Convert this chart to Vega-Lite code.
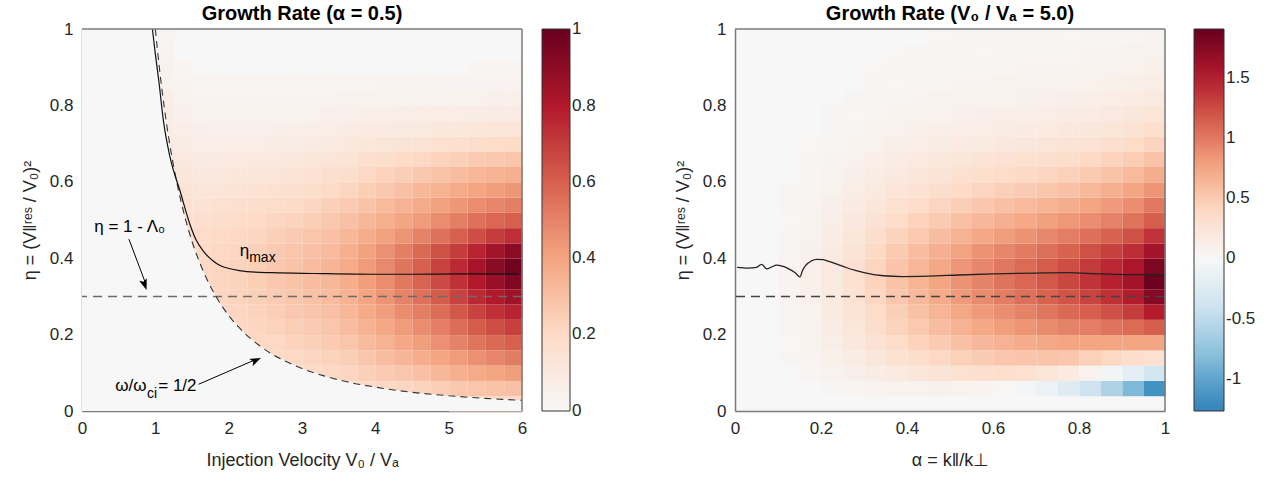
{
"$schema": "https://vega.github.io/schema/vega-lite/v6.json",
"padding": {"left": 21, "top": 4, "right": 5, "bottom": 4},
"background": "white",
"config": {
  "font": "Liberation Sans",
  "view": {"stroke": null, "fill": "#f7f7f7"},
  "axis": {"labelFont": "Liberation Sans", "labelFontSize": 17, "labelColor": "#262626", "titleFont": "Liberation Sans", "titleFontSize": 18, "titleFontWeight": "normal", "titleColor": "#262626", "domainColor": "#7a7a7a", "domainWidth": 1.5, "ticks": false, "grid": false, "labelPadding": 9, "zindex": 1, "labelFlush": false, "labelExpr": "'' + datum.value"},
  "legend": {"labelFont": "Liberation Sans", "labelFontSize": 17, "labelColor": "#262626", "labelOffset": 6, "gradientStrokeColor": "#333333", "gradientStrokeWidth": 1, "direction": "vertical", "orient": "right", "labelOverlap": false},
  "title": {"font": "Liberation Sans", "fontSize": 20, "fontWeight": "bold", "color": "#000000"},
  "concat": {"spacing": 78}
},
"datasets": {
"L": [
{"x":1,"y":0.64,"g":0.1},{"x":1,"y":0.68,"g":0.09},{"x":1,"y":0.72,"g":0.08},{"x":1,"y":0.76,"g":0.07},{"x":1,"y":0.8,"g":0.06},{"x":1,"y":0.84,"g":0.045},{"x":1,"y":0.88,"g":0.035},{"x":1,"y":0.92,"g":0.025},{"x":1,"y":0.96,"g":0.02},
{"x":1.25,"y":0.44,"g":0.18},{"x":1.25,"y":0.48,"g":0.17},{"x":1.25,"y":0.52,"g":0.16},{"x":1.25,"y":0.56,"g":0.14},{"x":1.25,"y":0.6,"g":0.12},{"x":1.25,"y":0.64,"g":0.1},{"x":1.25,"y":0.68,"g":0.08},{"x":1.25,"y":0.72,"g":0.065},{"x":1.25,"y":0.76,"g":0.05},{"x":1.25,"y":0.8,"g":0.035},{"x":1.25,"y":0.84,"g":0.025},{"x":1.25,"y":0.88,"g":0.02},
{"x":1.5,"y":0.32,"g":0.21},{"x":1.5,"y":0.36,"g":0.21},{"x":1.5,"y":0.4,"g":0.2},{"x":1.5,"y":0.44,"g":0.19},{"x":1.5,"y":0.48,"g":0.17},{"x":1.5,"y":0.52,"g":0.15},{"x":1.5,"y":0.56,"g":0.13},{"x":1.5,"y":0.6,"g":0.11},{"x":1.5,"y":0.64,"g":0.09},{"x":1.5,"y":0.68,"g":0.07},{"x":1.5,"y":0.72,"g":0.055},{"x":1.5,"y":0.76,"g":0.04},{"x":1.5,"y":0.8,"g":0.03},{"x":1.5,"y":0.84,"g":0.02},
{"x":1.75,"y":0.24,"g":0.21},{"x":1.75,"y":0.28,"g":0.22},{"x":1.75,"y":0.32,"g":0.22},{"x":1.75,"y":0.36,"g":0.22},{"x":1.75,"y":0.4,"g":0.21},{"x":1.75,"y":0.44,"g":0.2},{"x":1.75,"y":0.48,"g":0.18},{"x":1.75,"y":0.52,"g":0.16},{"x":1.75,"y":0.56,"g":0.13},{"x":1.75,"y":0.6,"g":0.11},{"x":1.75,"y":0.64,"g":0.09},{"x":1.75,"y":0.68,"g":0.07},{"x":1.75,"y":0.72,"g":0.05},{"x":1.75,"y":0.76,"g":0.035},{"x":1.75,"y":0.8,"g":0.025},{"x":1.75,"y":0.84,"g":0.02},
{"x":2,"y":0.16,"g":0.2},{"x":2,"y":0.2,"g":0.21},{"x":2,"y":0.24,"g":0.22},{"x":2,"y":0.28,"g":0.23},{"x":2,"y":0.32,"g":0.23},{"x":2,"y":0.36,"g":0.23},{"x":2,"y":0.4,"g":0.22},{"x":2,"y":0.44,"g":0.21},{"x":2,"y":0.48,"g":0.19},{"x":2,"y":0.52,"g":0.17},{"x":2,"y":0.56,"g":0.14},{"x":2,"y":0.6,"g":0.12},{"x":2,"y":0.64,"g":0.09},{"x":2,"y":0.68,"g":0.07},{"x":2,"y":0.72,"g":0.05},{"x":2,"y":0.76,"g":0.035},{"x":2,"y":0.8,"g":0.025},{"x":2,"y":0.84,"g":0.02},
{"x":2.25,"y":0.16,"g":0.21},{"x":2.25,"y":0.2,"g":0.22},{"x":2.25,"y":0.24,"g":0.23},{"x":2.25,"y":0.28,"g":0.24},{"x":2.25,"y":0.32,"g":0.25},{"x":2.25,"y":0.36,"g":0.25},{"x":2.25,"y":0.4,"g":0.24},{"x":2.25,"y":0.44,"g":0.22},{"x":2.25,"y":0.48,"g":0.2},{"x":2.25,"y":0.52,"g":0.18},{"x":2.25,"y":0.56,"g":0.15},{"x":2.25,"y":0.6,"g":0.12},{"x":2.25,"y":0.64,"g":0.1},{"x":2.25,"y":0.68,"g":0.07},{"x":2.25,"y":0.72,"g":0.05},{"x":2.25,"y":0.76,"g":0.035},{"x":2.25,"y":0.8,"g":0.025},{"x":2.25,"y":0.84,"g":0.02},
{"x":2.5,"y":0.12,"g":0.2},{"x":2.5,"y":0.16,"g":0.21},{"x":2.5,"y":0.2,"g":0.23},{"x":2.5,"y":0.24,"g":0.25},{"x":2.5,"y":0.28,"g":0.26},{"x":2.5,"y":0.32,"g":0.27},{"x":2.5,"y":0.36,"g":0.27},{"x":2.5,"y":0.4,"g":0.26},{"x":2.5,"y":0.44,"g":0.24},{"x":2.5,"y":0.48,"g":0.22},{"x":2.5,"y":0.52,"g":0.19},{"x":2.5,"y":0.56,"g":0.16},{"x":2.5,"y":0.6,"g":0.13},{"x":2.5,"y":0.64,"g":0.1},{"x":2.5,"y":0.68,"g":0.075},{"x":2.5,"y":0.72,"g":0.055},{"x":2.5,"y":0.76,"g":0.04},{"x":2.5,"y":0.8,"g":0.025},{"x":2.5,"y":0.84,"g":0.02},
{"x":2.75,"y":0.08,"g":0.19},{"x":2.75,"y":0.12,"g":0.21},{"x":2.75,"y":0.16,"g":0.23},{"x":2.75,"y":0.2,"g":0.25},{"x":2.75,"y":0.24,"g":0.27},{"x":2.75,"y":0.28,"g":0.28},{"x":2.75,"y":0.32,"g":0.29},{"x":2.75,"y":0.36,"g":0.29},{"x":2.75,"y":0.4,"g":0.28},{"x":2.75,"y":0.44,"g":0.26},{"x":2.75,"y":0.48,"g":0.23},{"x":2.75,"y":0.52,"g":0.2},{"x":2.75,"y":0.56,"g":0.17},{"x":2.75,"y":0.6,"g":0.14},{"x":2.75,"y":0.64,"g":0.11},{"x":2.75,"y":0.68,"g":0.08},{"x":2.75,"y":0.72,"g":0.06},{"x":2.75,"y":0.76,"g":0.04},{"x":2.75,"y":0.8,"g":0.025},{"x":2.75,"y":0.84,"g":0.02},
{"x":3,"y":0.08,"g":0.2},{"x":3,"y":0.12,"g":0.22},{"x":3,"y":0.16,"g":0.24},{"x":3,"y":0.2,"g":0.26},{"x":3,"y":0.24,"g":0.28},{"x":3,"y":0.28,"g":0.3},{"x":3,"y":0.32,"g":0.31},{"x":3,"y":0.36,"g":0.31},{"x":3,"y":0.4,"g":0.3},{"x":3,"y":0.44,"g":0.28},{"x":3,"y":0.48,"g":0.25},{"x":3,"y":0.52,"g":0.22},{"x":3,"y":0.56,"g":0.18},{"x":3,"y":0.6,"g":0.15},{"x":3,"y":0.64,"g":0.12},{"x":3,"y":0.68,"g":0.09},{"x":3,"y":0.72,"g":0.065},{"x":3,"y":0.76,"g":0.045},{"x":3,"y":0.8,"g":0.03},{"x":3,"y":0.84,"g":0.02},
{"x":3.25,"y":0.08,"g":0.21},{"x":3.25,"y":0.12,"g":0.23},{"x":3.25,"y":0.16,"g":0.26},{"x":3.25,"y":0.2,"g":0.28},{"x":3.25,"y":0.24,"g":0.3},{"x":3.25,"y":0.28,"g":0.32},{"x":3.25,"y":0.32,"g":0.33},{"x":3.25,"y":0.36,"g":0.34},{"x":3.25,"y":0.4,"g":0.32},{"x":3.25,"y":0.44,"g":0.3},{"x":3.25,"y":0.48,"g":0.27},{"x":3.25,"y":0.52,"g":0.24},{"x":3.25,"y":0.56,"g":0.2},{"x":3.25,"y":0.6,"g":0.17},{"x":3.25,"y":0.64,"g":0.13},{"x":3.25,"y":0.68,"g":0.1},{"x":3.25,"y":0.72,"g":0.07},{"x":3.25,"y":0.76,"g":0.05},{"x":3.25,"y":0.8,"g":0.03},{"x":3.25,"y":0.84,"g":0.02},
{"x":3.5,"y":0.04,"g":0.2},{"x":3.5,"y":0.08,"g":0.22},{"x":3.5,"y":0.12,"g":0.25},{"x":3.5,"y":0.16,"g":0.28},{"x":3.5,"y":0.2,"g":0.31},{"x":3.5,"y":0.24,"g":0.33},{"x":3.5,"y":0.28,"g":0.35},{"x":3.5,"y":0.32,"g":0.37},{"x":3.5,"y":0.36,"g":0.38},{"x":3.5,"y":0.4,"g":0.36},{"x":3.5,"y":0.44,"g":0.33},{"x":3.5,"y":0.48,"g":0.3},{"x":3.5,"y":0.52,"g":0.26},{"x":3.5,"y":0.56,"g":0.22},{"x":3.5,"y":0.6,"g":0.18},{"x":3.5,"y":0.64,"g":0.14},{"x":3.5,"y":0.68,"g":0.11},{"x":3.5,"y":0.72,"g":0.08},{"x":3.5,"y":0.76,"g":0.05},{"x":3.5,"y":0.8,"g":0.035},{"x":3.5,"y":0.84,"g":0.02},
{"x":3.75,"y":0.04,"g":0.2},{"x":3.75,"y":0.08,"g":0.24},{"x":3.75,"y":0.12,"g":0.28},{"x":3.75,"y":0.16,"g":0.32},{"x":3.75,"y":0.2,"g":0.35},{"x":3.75,"y":0.24,"g":0.38},{"x":3.75,"y":0.28,"g":0.4},{"x":3.75,"y":0.32,"g":0.42},{"x":3.75,"y":0.36,"g":0.43},{"x":3.75,"y":0.4,"g":0.41},{"x":3.75,"y":0.44,"g":0.37},{"x":3.75,"y":0.48,"g":0.33},{"x":3.75,"y":0.52,"g":0.29},{"x":3.75,"y":0.56,"g":0.25},{"x":3.75,"y":0.6,"g":0.21},{"x":3.75,"y":0.64,"g":0.17},{"x":3.75,"y":0.68,"g":0.12},{"x":3.75,"y":0.72,"g":0.09},{"x":3.75,"y":0.76,"g":0.06},{"x":3.75,"y":0.8,"g":0.04},{"x":3.75,"y":0.84,"g":0.02},
{"x":4,"y":0.04,"g":0.21},{"x":4,"y":0.08,"g":0.26},{"x":4,"y":0.12,"g":0.31},{"x":4,"y":0.16,"g":0.35},{"x":4,"y":0.2,"g":0.39},{"x":4,"y":0.24,"g":0.42},{"x":4,"y":0.28,"g":0.45},{"x":4,"y":0.32,"g":0.47},{"x":4,"y":0.36,"g":0.48},{"x":4,"y":0.4,"g":0.46},{"x":4,"y":0.44,"g":0.41},{"x":4,"y":0.48,"g":0.36},{"x":4,"y":0.52,"g":0.32},{"x":4,"y":0.56,"g":0.27},{"x":4,"y":0.6,"g":0.23},{"x":4,"y":0.64,"g":0.18},{"x":4,"y":0.68,"g":0.13},{"x":4,"y":0.72,"g":0.09},{"x":4,"y":0.76,"g":0.06},{"x":4,"y":0.8,"g":0.04},{"x":4,"y":0.84,"g":0.025},
{"x":4.25,"y":0.04,"g":0.22},{"x":4.25,"y":0.08,"g":0.28},{"x":4.25,"y":0.12,"g":0.34},{"x":4.25,"y":0.16,"g":0.39},{"x":4.25,"y":0.2,"g":0.43},{"x":4.25,"y":0.24,"g":0.47},{"x":4.25,"y":0.28,"g":0.5},{"x":4.25,"y":0.32,"g":0.53},{"x":4.25,"y":0.36,"g":0.54},{"x":4.25,"y":0.4,"g":0.51},{"x":4.25,"y":0.44,"g":0.45},{"x":4.25,"y":0.48,"g":0.4},{"x":4.25,"y":0.52,"g":0.35},{"x":4.25,"y":0.56,"g":0.3},{"x":4.25,"y":0.6,"g":0.25},{"x":4.25,"y":0.64,"g":0.2},{"x":4.25,"y":0.68,"g":0.14},{"x":4.25,"y":0.72,"g":0.1},{"x":4.25,"y":0.76,"g":0.065},{"x":4.25,"y":0.8,"g":0.04},{"x":4.25,"y":0.84,"g":0.025},
{"x":4.5,"y":0.04,"g":0.23},{"x":4.5,"y":0.08,"g":0.3},{"x":4.5,"y":0.12,"g":0.37},{"x":4.5,"y":0.16,"g":0.42},{"x":4.5,"y":0.2,"g":0.47},{"x":4.5,"y":0.24,"g":0.51},{"x":4.5,"y":0.28,"g":0.55},{"x":4.5,"y":0.32,"g":0.59},{"x":4.5,"y":0.36,"g":0.6},{"x":4.5,"y":0.4,"g":0.57},{"x":4.5,"y":0.44,"g":0.5},{"x":4.5,"y":0.48,"g":0.43},{"x":4.5,"y":0.52,"g":0.38},{"x":4.5,"y":0.56,"g":0.33},{"x":4.5,"y":0.6,"g":0.27},{"x":4.5,"y":0.64,"g":0.21},{"x":4.5,"y":0.68,"g":0.15},{"x":4.5,"y":0.72,"g":0.1},{"x":4.5,"y":0.76,"g":0.07},{"x":4.5,"y":0.8,"g":0.04},{"x":4.5,"y":0.84,"g":0.025},
{"x":4.75,"y":0.04,"g":0.25},{"x":4.75,"y":0.08,"g":0.33},{"x":4.75,"y":0.12,"g":0.4},{"x":4.75,"y":0.16,"g":0.46},{"x":4.75,"y":0.2,"g":0.51},{"x":4.75,"y":0.24,"g":0.56},{"x":4.75,"y":0.28,"g":0.61},{"x":4.75,"y":0.32,"g":0.66},{"x":4.75,"y":0.36,"g":0.68},{"x":4.75,"y":0.4,"g":0.64},{"x":4.75,"y":0.44,"g":0.55},{"x":4.75,"y":0.48,"g":0.47},{"x":4.75,"y":0.52,"g":0.41},{"x":4.75,"y":0.56,"g":0.35},{"x":4.75,"y":0.6,"g":0.29},{"x":4.75,"y":0.64,"g":0.23},{"x":4.75,"y":0.68,"g":0.16},{"x":4.75,"y":0.72,"g":0.11},{"x":4.75,"y":0.76,"g":0.07},{"x":4.75,"y":0.8,"g":0.04},{"x":4.75,"y":0.84,"g":0.025},
{"x":5,"y":0,"g":0.18},{"x":5,"y":0.04,"g":0.27},{"x":5,"y":0.08,"g":0.36},{"x":5,"y":0.12,"g":0.43},{"x":5,"y":0.16,"g":0.5},{"x":5,"y":0.2,"g":0.56},{"x":5,"y":0.24,"g":0.62},{"x":5,"y":0.28,"g":0.68},{"x":5,"y":0.32,"g":0.73},{"x":5,"y":0.36,"g":0.75},{"x":5,"y":0.4,"g":0.7},{"x":5,"y":0.44,"g":0.6},{"x":5,"y":0.48,"g":0.51},{"x":5,"y":0.52,"g":0.44},{"x":5,"y":0.56,"g":0.38},{"x":5,"y":0.6,"g":0.31},{"x":5,"y":0.64,"g":0.24},{"x":5,"y":0.68,"g":0.17},{"x":5,"y":0.72,"g":0.11},{"x":5,"y":0.76,"g":0.07},{"x":5,"y":0.8,"g":0.045},{"x":5,"y":0.84,"g":0.025},
{"x":5.25,"y":0,"g":0.19},{"x":5.25,"y":0.04,"g":0.28},{"x":5.25,"y":0.08,"g":0.38},{"x":5.25,"y":0.12,"g":0.46},{"x":5.25,"y":0.16,"g":0.54},{"x":5.25,"y":0.2,"g":0.61},{"x":5.25,"y":0.24,"g":0.68},{"x":5.25,"y":0.28,"g":0.75},{"x":5.25,"y":0.32,"g":0.8},{"x":5.25,"y":0.36,"g":0.83},{"x":5.25,"y":0.4,"g":0.77},{"x":5.25,"y":0.44,"g":0.65},{"x":5.25,"y":0.48,"g":0.55},{"x":5.25,"y":0.52,"g":0.47},{"x":5.25,"y":0.56,"g":0.4},{"x":5.25,"y":0.6,"g":0.33},{"x":5.25,"y":0.64,"g":0.26},{"x":5.25,"y":0.68,"g":0.18},{"x":5.25,"y":0.72,"g":0.12},{"x":5.25,"y":0.76,"g":0.075},{"x":5.25,"y":0.8,"g":0.045},{"x":5.25,"y":0.84,"g":0.03},{"x":5.25,"y":0.88,"g":0.02},
{"x":5.5,"y":0,"g":0.2},{"x":5.5,"y":0.04,"g":0.29},{"x":5.5,"y":0.08,"g":0.4},{"x":5.5,"y":0.12,"g":0.49},{"x":5.5,"y":0.16,"g":0.57},{"x":5.5,"y":0.2,"g":0.65},{"x":5.5,"y":0.24,"g":0.73},{"x":5.5,"y":0.28,"g":0.8},{"x":5.5,"y":0.32,"g":0.87},{"x":5.5,"y":0.36,"g":0.91},{"x":5.5,"y":0.4,"g":0.84},{"x":5.5,"y":0.44,"g":0.7},{"x":5.5,"y":0.48,"g":0.58},{"x":5.5,"y":0.52,"g":0.49},{"x":5.5,"y":0.56,"g":0.42},{"x":5.5,"y":0.6,"g":0.35},{"x":5.5,"y":0.64,"g":0.27},{"x":5.5,"y":0.68,"g":0.19},{"x":5.5,"y":0.72,"g":0.125},{"x":5.5,"y":0.76,"g":0.08},{"x":5.5,"y":0.8,"g":0.05},{"x":5.5,"y":0.84,"g":0.03},{"x":5.5,"y":0.88,"g":0.02},
{"x":5.75,"y":0,"g":0.2},{"x":5.75,"y":0.04,"g":0.3},{"x":5.75,"y":0.08,"g":0.42},{"x":5.75,"y":0.12,"g":0.52},{"x":5.75,"y":0.16,"g":0.6},{"x":5.75,"y":0.2,"g":0.69},{"x":5.75,"y":0.24,"g":0.77},{"x":5.75,"y":0.28,"g":0.85},{"x":5.75,"y":0.32,"g":0.93},{"x":5.75,"y":0.36,"g":0.98},{"x":5.75,"y":0.4,"g":0.9},{"x":5.75,"y":0.44,"g":0.74},{"x":5.75,"y":0.48,"g":0.6},{"x":5.75,"y":0.52,"g":0.51},{"x":5.75,"y":0.56,"g":0.44},{"x":5.75,"y":0.6,"g":0.36},{"x":5.75,"y":0.64,"g":0.28},{"x":5.75,"y":0.68,"g":0.2},{"x":5.75,"y":0.72,"g":0.13},{"x":5.75,"y":0.76,"g":0.08},{"x":5.75,"y":0.8,"g":0.05},{"x":5.75,"y":0.84,"g":0.03},{"x":5.75,"y":0.88,"g":0.02}
],
"R": [
{"x":0.1,"y":0.12,"h":0.026},{"x":0.1,"y":0.16,"h":0.033},{"x":0.1,"y":0.2,"h":0.039},{"x":0.1,"y":0.24,"h":0.043},{"x":0.1,"y":0.28,"h":0.048},{"x":0.1,"y":0.32,"h":0.05},{"x":0.1,"y":0.36,"h":0.049},{"x":0.1,"y":0.4,"h":0.045},{"x":0.1,"y":0.44,"h":0.039},{"x":0.1,"y":0.48,"h":0.033},{"x":0.1,"y":0.52,"h":0.028},{"x":0.1,"y":0.56,"h":0.022},
{"x":0.15,"y":0.08,"h":0.035},{"x":0.15,"y":0.12,"h":0.052},{"x":0.15,"y":0.16,"h":0.066},{"x":0.15,"y":0.2,"h":0.078},{"x":0.15,"y":0.24,"h":0.086},{"x":0.15,"y":0.28,"h":0.095},{"x":0.15,"y":0.32,"h":0.1},{"x":0.15,"y":0.36,"h":0.098},{"x":0.15,"y":0.4,"h":0.09},{"x":0.15,"y":0.44,"h":0.078},{"x":0.15,"y":0.48,"h":0.066},{"x":0.15,"y":0.52,"h":0.055},{"x":0.15,"y":0.56,"h":0.044},{"x":0.15,"y":0.6,"h":0.035},{"x":0.15,"y":0.64,"h":0.027},{"x":0.15,"y":0.68,"h":0.02},
{"x":0.2,"y":0.04,"h":0.023},{"x":0.2,"y":0.08,"h":0.067},{"x":0.2,"y":0.12,"h":0.1},{"x":0.2,"y":0.16,"h":0.125},{"x":0.2,"y":0.2,"h":0.148},{"x":0.2,"y":0.24,"h":0.163},{"x":0.2,"y":0.28,"h":0.18},{"x":0.2,"y":0.32,"h":0.19},{"x":0.2,"y":0.36,"h":0.186},{"x":0.2,"y":0.4,"h":0.171},{"x":0.2,"y":0.44,"h":0.148},{"x":0.2,"y":0.48,"h":0.125},{"x":0.2,"y":0.52,"h":0.105},{"x":0.2,"y":0.56,"h":0.084},{"x":0.2,"y":0.6,"h":0.067},{"x":0.2,"y":0.64,"h":0.051},{"x":0.2,"y":0.68,"h":0.038},{"x":0.2,"y":0.72,"h":0.029},{"x":0.2,"y":0.76,"h":0.021},
{"x":0.25,"y":0.04,"h":0.036},{"x":0.25,"y":0.08,"h":0.105},{"x":0.25,"y":0.12,"h":0.156},{"x":0.25,"y":0.16,"h":0.198},{"x":0.25,"y":0.2,"h":0.234},{"x":0.25,"y":0.24,"h":0.258},{"x":0.25,"y":0.28,"h":0.285},{"x":0.25,"y":0.32,"h":0.3},{"x":0.25,"y":0.36,"h":0.294},{"x":0.25,"y":0.4,"h":0.27},{"x":0.25,"y":0.44,"h":0.234},{"x":0.25,"y":0.48,"h":0.198},{"x":0.25,"y":0.52,"h":0.165},{"x":0.25,"y":0.56,"h":0.132},{"x":0.25,"y":0.6,"h":0.105},{"x":0.25,"y":0.64,"h":0.081},{"x":0.25,"y":0.68,"h":0.06},{"x":0.25,"y":0.72,"h":0.045},{"x":0.25,"y":0.76,"h":0.033},{"x":0.25,"y":0.8,"h":0.024},
{"x":0.3,"y":0.04,"h":0.052},{"x":0.3,"y":0.08,"h":0.15},{"x":0.3,"y":0.12,"h":0.22},{"x":0.3,"y":0.16,"h":0.28},{"x":0.3,"y":0.2,"h":0.335},{"x":0.3,"y":0.24,"h":0.37},{"x":0.3,"y":0.28,"h":0.41},{"x":0.3,"y":0.32,"h":0.43},{"x":0.3,"y":0.36,"h":0.42},{"x":0.3,"y":0.4,"h":0.39},{"x":0.3,"y":0.44,"h":0.335},{"x":0.3,"y":0.48,"h":0.28},{"x":0.3,"y":0.52,"h":0.235},{"x":0.3,"y":0.56,"h":0.19},{"x":0.3,"y":0.6,"h":0.15},{"x":0.3,"y":0.64,"h":0.116},{"x":0.3,"y":0.68,"h":0.086},{"x":0.3,"y":0.72,"h":0.065},{"x":0.3,"y":0.76,"h":0.047},{"x":0.3,"y":0.8,"h":0.034},{"x":0.3,"y":0.84,"h":0.026},{"x":0.3,"y":0.88,"h":0.02},
{"x":0.35,"y":0.04,"h":0.066},{"x":0.35,"y":0.08,"h":0.19},{"x":0.35,"y":0.12,"h":0.29},{"x":0.35,"y":0.16,"h":0.36},{"x":0.35,"y":0.2,"h":0.43},{"x":0.35,"y":0.24,"h":0.47},{"x":0.35,"y":0.28,"h":0.52},{"x":0.35,"y":0.32,"h":0.55},{"x":0.35,"y":0.36,"h":0.54},{"x":0.35,"y":0.4,"h":0.5},{"x":0.35,"y":0.44,"h":0.43},{"x":0.35,"y":0.48,"h":0.36},{"x":0.35,"y":0.52,"h":0.3},{"x":0.35,"y":0.56,"h":0.24},{"x":0.35,"y":0.6,"h":0.19},{"x":0.35,"y":0.64,"h":0.15},{"x":0.35,"y":0.68,"h":0.11},{"x":0.35,"y":0.72,"h":0.083},{"x":0.35,"y":0.76,"h":0.06},{"x":0.35,"y":0.8,"h":0.044},{"x":0.35,"y":0.84,"h":0.033},{"x":0.35,"y":0.88,"h":0.025},{"x":0.35,"y":0.92,"h":0.02},
{"x":0.4,"y":0.04,"h":0.078},{"x":0.4,"y":0.08,"h":0.23},{"x":0.4,"y":0.12,"h":0.34},{"x":0.4,"y":0.16,"h":0.43},{"x":0.4,"y":0.2,"h":0.51},{"x":0.4,"y":0.24,"h":0.56},{"x":0.4,"y":0.28,"h":0.62},{"x":0.4,"y":0.32,"h":0.65},{"x":0.4,"y":0.36,"h":0.64},{"x":0.4,"y":0.4,"h":0.59},{"x":0.4,"y":0.44,"h":0.51},{"x":0.4,"y":0.48,"h":0.43},{"x":0.4,"y":0.52,"h":0.36},{"x":0.4,"y":0.56,"h":0.29},{"x":0.4,"y":0.6,"h":0.23},{"x":0.4,"y":0.64,"h":0.18},{"x":0.4,"y":0.68,"h":0.13},{"x":0.4,"y":0.72,"h":0.1},{"x":0.4,"y":0.76,"h":0.072},{"x":0.4,"y":0.8,"h":0.052},{"x":0.4,"y":0.84,"h":0.039},{"x":0.4,"y":0.88,"h":0.029},{"x":0.4,"y":0.92,"h":0.023},
{"x":0.45,"y":0.04,"h":0.09},{"x":0.45,"y":0.08,"h":0.27},{"x":0.45,"y":0.12,"h":0.4},{"x":0.45,"y":0.16,"h":0.5},{"x":0.45,"y":0.2,"h":0.59},{"x":0.45,"y":0.24,"h":0.65},{"x":0.45,"y":0.28,"h":0.72},{"x":0.45,"y":0.32,"h":0.76},{"x":0.45,"y":0.36,"h":0.74},{"x":0.45,"y":0.4,"h":0.68},{"x":0.45,"y":0.44,"h":0.59},{"x":0.45,"y":0.48,"h":0.5},{"x":0.45,"y":0.52,"h":0.42},{"x":0.45,"y":0.56,"h":0.34},{"x":0.45,"y":0.6,"h":0.27},{"x":0.45,"y":0.64,"h":0.21},{"x":0.45,"y":0.68,"h":0.155},{"x":0.45,"y":0.72,"h":0.115},{"x":0.45,"y":0.76,"h":0.085},{"x":0.45,"y":0.8,"h":0.062},{"x":0.45,"y":0.84,"h":0.046},{"x":0.45,"y":0.88,"h":0.035},{"x":0.45,"y":0.92,"h":0.027},{"x":0.45,"y":0.96,"h":0.02},
{"x":0.5,"y":0.04,"h":0.08},{"x":0.5,"y":0.08,"h":0.3},{"x":0.5,"y":0.12,"h":0.45},{"x":0.5,"y":0.16,"h":0.57},{"x":0.5,"y":0.2,"h":0.67},{"x":0.5,"y":0.24,"h":0.74},{"x":0.5,"y":0.28,"h":0.82},{"x":0.5,"y":0.32,"h":0.86},{"x":0.5,"y":0.36,"h":0.84},{"x":0.5,"y":0.4,"h":0.77},{"x":0.5,"y":0.44,"h":0.67},{"x":0.5,"y":0.48,"h":0.57},{"x":0.5,"y":0.52,"h":0.47},{"x":0.5,"y":0.56,"h":0.38},{"x":0.5,"y":0.6,"h":0.3},{"x":0.5,"y":0.64,"h":0.23},{"x":0.5,"y":0.68,"h":0.175},{"x":0.5,"y":0.72,"h":0.13},{"x":0.5,"y":0.76,"h":0.095},{"x":0.5,"y":0.8,"h":0.07},{"x":0.5,"y":0.84,"h":0.052},{"x":0.5,"y":0.88,"h":0.039},{"x":0.5,"y":0.92,"h":0.03},{"x":0.5,"y":0.96,"h":0.022},
{"x":0.55,"y":0.04,"h":0.05},{"x":0.55,"y":0.08,"h":0.32},{"x":0.55,"y":0.12,"h":0.49},{"x":0.55,"y":0.16,"h":0.63},{"x":0.55,"y":0.2,"h":0.74},{"x":0.55,"y":0.24,"h":0.82},{"x":0.55,"y":0.28,"h":0.9},{"x":0.55,"y":0.32,"h":0.95},{"x":0.55,"y":0.36,"h":0.93},{"x":0.55,"y":0.4,"h":0.86},{"x":0.55,"y":0.44,"h":0.74},{"x":0.55,"y":0.48,"h":0.63},{"x":0.55,"y":0.52,"h":0.52},{"x":0.55,"y":0.56,"h":0.42},{"x":0.55,"y":0.6,"h":0.33},{"x":0.55,"y":0.64,"h":0.26},{"x":0.55,"y":0.68,"h":0.19},{"x":0.55,"y":0.72,"h":0.14},{"x":0.55,"y":0.76,"h":0.105},{"x":0.55,"y":0.8,"h":0.076},{"x":0.55,"y":0.84,"h":0.057},{"x":0.55,"y":0.88,"h":0.043},{"x":0.55,"y":0.92,"h":0.033},{"x":0.55,"y":0.96,"h":0.024},
{"x":0.6,"y":0.04,"h":0.02},{"x":0.6,"y":0.08,"h":0.33},{"x":0.6,"y":0.12,"h":0.52},{"x":0.6,"y":0.16,"h":0.67},{"x":0.6,"y":0.2,"h":0.8},{"x":0.6,"y":0.24,"h":0.89},{"x":0.6,"y":0.28,"h":0.98},{"x":0.6,"y":0.32,"h":1.03},{"x":0.6,"y":0.36,"h":1.01},{"x":0.6,"y":0.4,"h":0.93},{"x":0.6,"y":0.44,"h":0.8},{"x":0.6,"y":0.48,"h":0.68},{"x":0.6,"y":0.52,"h":0.57},{"x":0.6,"y":0.56,"h":0.46},{"x":0.6,"y":0.6,"h":0.36},{"x":0.6,"y":0.64,"h":0.28},{"x":0.6,"y":0.68,"h":0.21},{"x":0.6,"y":0.72,"h":0.155},{"x":0.6,"y":0.76,"h":0.115},{"x":0.6,"y":0.8,"h":0.083},{"x":0.6,"y":0.84,"h":0.062},{"x":0.6,"y":0.88,"h":0.047},{"x":0.6,"y":0.92,"h":0.036},{"x":0.6,"y":0.96,"h":0.026},
{"x":0.65,"y":0.04,"h":-0.04},{"x":0.65,"y":0.08,"h":0.3},{"x":0.65,"y":0.12,"h":0.54},{"x":0.65,"y":0.16,"h":0.71},{"x":0.65,"y":0.2,"h":0.85},{"x":0.65,"y":0.24,"h":0.95},{"x":0.65,"y":0.28,"h":1.05},{"x":0.65,"y":0.32,"h":1.1},{"x":0.65,"y":0.36,"h":1.08},{"x":0.65,"y":0.4,"h":0.99},{"x":0.65,"y":0.44,"h":0.86},{"x":0.65,"y":0.48,"h":0.73},{"x":0.65,"y":0.52,"h":0.61},{"x":0.65,"y":0.56,"h":0.49},{"x":0.65,"y":0.6,"h":0.39},{"x":0.65,"y":0.64,"h":0.3},{"x":0.65,"y":0.68,"h":0.22},{"x":0.65,"y":0.72,"h":0.165},{"x":0.65,"y":0.76,"h":0.12},{"x":0.65,"y":0.8,"h":0.09},{"x":0.65,"y":0.84,"h":0.066},{"x":0.65,"y":0.88,"h":0.05},{"x":0.65,"y":0.92,"h":0.038},{"x":0.65,"y":0.96,"h":0.028},
{"x":0.7,"y":0.04,"h":-0.12},{"x":0.7,"y":0.08,"h":0.25},{"x":0.7,"y":0.12,"h":0.54},{"x":0.7,"y":0.16,"h":0.74},{"x":0.7,"y":0.2,"h":0.9},{"x":0.7,"y":0.24,"h":1.02},{"x":0.7,"y":0.28,"h":1.12},{"x":0.7,"y":0.32,"h":1.18},{"x":0.7,"y":0.36,"h":1.16},{"x":0.7,"y":0.4,"h":1.06},{"x":0.7,"y":0.44,"h":0.92},{"x":0.7,"y":0.48,"h":0.78},{"x":0.7,"y":0.52,"h":0.65},{"x":0.7,"y":0.56,"h":0.53},{"x":0.7,"y":0.6,"h":0.42},{"x":0.7,"y":0.64,"h":0.32},{"x":0.7,"y":0.68,"h":0.24},{"x":0.7,"y":0.72,"h":0.18},{"x":0.7,"y":0.76,"h":0.13},{"x":0.7,"y":0.8,"h":0.095},{"x":0.7,"y":0.84,"h":0.07},{"x":0.7,"y":0.88,"h":0.053},{"x":0.7,"y":0.92,"h":0.04},{"x":0.7,"y":0.96,"h":0.03},
{"x":0.75,"y":0.04,"h":-0.25},{"x":0.75,"y":0.08,"h":0.18},{"x":0.75,"y":0.12,"h":0.52},{"x":0.75,"y":0.16,"h":0.76},{"x":0.75,"y":0.2,"h":0.95},{"x":0.75,"y":0.24,"h":1.09},{"x":0.75,"y":0.28,"h":1.2},{"x":0.75,"y":0.32,"h":1.27},{"x":0.75,"y":0.36,"h":1.24},{"x":0.75,"y":0.4,"h":1.13},{"x":0.75,"y":0.44,"h":0.98},{"x":0.75,"y":0.48,"h":0.83},{"x":0.75,"y":0.52,"h":0.7},{"x":0.75,"y":0.56,"h":0.57},{"x":0.75,"y":0.6,"h":0.45},{"x":0.75,"y":0.64,"h":0.35},{"x":0.75,"y":0.68,"h":0.26},{"x":0.75,"y":0.72,"h":0.2},{"x":0.75,"y":0.76,"h":0.145},{"x":0.75,"y":0.8,"h":0.105},{"x":0.75,"y":0.84,"h":0.078},{"x":0.75,"y":0.88,"h":0.058},{"x":0.75,"y":0.92,"h":0.044},{"x":0.75,"y":0.96,"h":0.033},
{"x":0.8,"y":0.04,"h":-0.4},{"x":0.8,"y":0.08,"h":0.08},{"x":0.8,"y":0.12,"h":0.45},{"x":0.8,"y":0.16,"h":0.75},{"x":0.8,"y":0.2,"h":0.98},{"x":0.8,"y":0.24,"h":1.15},{"x":0.8,"y":0.28,"h":1.29},{"x":0.8,"y":0.32,"h":1.37},{"x":0.8,"y":0.36,"h":1.34},{"x":0.8,"y":0.4,"h":1.22},{"x":0.8,"y":0.44,"h":1.05},{"x":0.8,"y":0.48,"h":0.89},{"x":0.8,"y":0.52,"h":0.76},{"x":0.8,"y":0.56,"h":0.62},{"x":0.8,"y":0.6,"h":0.5},{"x":0.8,"y":0.64,"h":0.39},{"x":0.8,"y":0.68,"h":0.29},{"x":0.8,"y":0.72,"h":0.22},{"x":0.8,"y":0.76,"h":0.16},{"x":0.8,"y":0.8,"h":0.12},{"x":0.8,"y":0.84,"h":0.088},{"x":0.8,"y":0.88,"h":0.066},{"x":0.8,"y":0.92,"h":0.05},{"x":0.8,"y":0.96,"h":0.037},
{"x":0.85,"y":0.04,"h":-0.6},{"x":0.85,"y":0.08,"h":-0.05},{"x":0.85,"y":0.12,"h":0.4},{"x":0.85,"y":0.16,"h":0.76},{"x":0.85,"y":0.2,"h":1.03},{"x":0.85,"y":0.24,"h":1.23},{"x":0.85,"y":0.28,"h":1.39},{"x":0.85,"y":0.32,"h":1.48},{"x":0.85,"y":0.36,"h":1.44},{"x":0.85,"y":0.4,"h":1.31},{"x":0.85,"y":0.44,"h":1.13},{"x":0.85,"y":0.48,"h":0.96},{"x":0.85,"y":0.52,"h":0.82},{"x":0.85,"y":0.56,"h":0.68},{"x":0.85,"y":0.6,"h":0.55},{"x":0.85,"y":0.64,"h":0.43},{"x":0.85,"y":0.68,"h":0.33},{"x":0.85,"y":0.72,"h":0.25},{"x":0.85,"y":0.76,"h":0.185},{"x":0.85,"y":0.8,"h":0.14},{"x":0.85,"y":0.84,"h":0.1},{"x":0.85,"y":0.88,"h":0.076},{"x":0.85,"y":0.92,"h":0.057},{"x":0.85,"y":0.96,"h":0.042},
{"x":0.9,"y":0.04,"h":-0.85},{"x":0.9,"y":0.08,"h":-0.18},{"x":0.9,"y":0.12,"h":0.35},{"x":0.9,"y":0.16,"h":0.76},{"x":0.9,"y":0.2,"h":1.08},{"x":0.9,"y":0.24,"h":1.33},{"x":0.9,"y":0.28,"h":1.5},{"x":0.9,"y":0.32,"h":1.6},{"x":0.9,"y":0.36,"h":1.55},{"x":0.9,"y":0.4,"h":1.41},{"x":0.9,"y":0.44,"h":1.22},{"x":0.9,"y":0.48,"h":1.03},{"x":0.9,"y":0.52,"h":0.89},{"x":0.9,"y":0.56,"h":0.75},{"x":0.9,"y":0.6,"h":0.61},{"x":0.9,"y":0.64,"h":0.48},{"x":0.9,"y":0.68,"h":0.37},{"x":0.9,"y":0.72,"h":0.29},{"x":0.9,"y":0.76,"h":0.215},{"x":0.9,"y":0.8,"h":0.16},{"x":0.9,"y":0.84,"h":0.12},{"x":0.9,"y":0.88,"h":0.088},{"x":0.9,"y":0.92,"h":0.064},{"x":0.9,"y":0.96,"h":0.047},
{"x":0.95,"y":0.04,"h":-1.15},{"x":0.95,"y":0.08,"h":-0.35},{"x":0.95,"y":0.12,"h":0.3},{"x":0.95,"y":0.16,"h":0.75},{"x":0.95,"y":0.2,"h":1.15},{"x":0.95,"y":0.24,"h":1.5},{"x":0.95,"y":0.28,"h":1.75},{"x":0.95,"y":0.32,"h":1.88},{"x":0.95,"y":0.36,"h":1.8},{"x":0.95,"y":0.4,"h":1.6},{"x":0.95,"y":0.44,"h":1.38},{"x":0.95,"y":0.48,"h":1.15},{"x":0.95,"y":0.52,"h":1.0},{"x":0.95,"y":0.56,"h":0.85},{"x":0.95,"y":0.6,"h":0.7},{"x":0.95,"y":0.64,"h":0.55},{"x":0.95,"y":0.68,"h":0.42},{"x":0.95,"y":0.72,"h":0.33},{"x":0.95,"y":0.76,"h":0.25},{"x":0.95,"y":0.8,"h":0.19},{"x":0.95,"y":0.84,"h":0.14},{"x":0.95,"y":0.88,"h":0.1},{"x":0.95,"y":0.92,"h":0.07},{"x":0.95,"y":0.96,"h":0.05}
],
"curve": [{"x":0,"y":1},{"x":1,"y":1},{"x":1.05,"y":0.907},{"x":1.1,"y":0.826},{"x":1.15,"y":0.756},{"x":1.2,"y":0.694},{"x":1.25,"y":0.64},{"x":1.3,"y":0.592},{"x":1.35,"y":0.549},{"x":1.4,"y":0.51},{"x":1.45,"y":0.476},{"x":1.5,"y":0.444},{"x":1.6,"y":0.391},{"x":1.7,"y":0.346},{"x":1.8,"y":0.309},{"x":1.9,"y":0.277},{"x":2,"y":0.25},{"x":2.2,"y":0.207},{"x":2.4,"y":0.174},{"x":2.6,"y":0.148},{"x":2.8,"y":0.128},{"x":3,"y":0.111},{"x":3.3,"y":0.092},{"x":3.6,"y":0.077},{"x":4,"y":0.0625},{"x":4.5,"y":0.049},{"x":5,"y":0.04},{"x":5.5,"y":0.033},{"x":6,"y":0.028}],
"lmax": [{"x":0.96,"y":1},{"x":1.0,"y":0.935},{"x":1.05,"y":0.86},{"x":1.11,"y":0.76},{"x":1.2,"y":0.665},{"x":1.34,"y":0.574},{"x":1.475,"y":0.487},{"x":1.55,"y":0.45},{"x":1.66,"y":0.417},{"x":1.78,"y":0.394},{"x":1.89,"y":0.38},{"x":2.05,"y":0.371},{"x":2.25,"y":0.365},{"x":2.6,"y":0.362},{"x":3.17,"y":0.36},{"x":4.0,"y":0.358},{"x":4.5,"y":0.358},{"x":5.2,"y":0.359},{"x":5.96,"y":0.358}],
"rmax": [{"x":0.005,"y":0.376},{"x":0.03,"y":0.374},{"x":0.05,"y":0.376},{"x":0.062,"y":0.384},{"x":0.074,"y":0.372},{"x":0.085,"y":0.377},{"x":0.097,"y":0.382},{"x":0.11,"y":0.379},{"x":0.125,"y":0.372},{"x":0.14,"y":0.362},{"x":0.151,"y":0.351},{"x":0.157,"y":0.368},{"x":0.165,"y":0.382},{"x":0.178,"y":0.393},{"x":0.19,"y":0.397},{"x":0.205,"y":0.396},{"x":0.22,"y":0.391},{"x":0.24,"y":0.383},{"x":0.26,"y":0.375},{"x":0.28,"y":0.368},{"x":0.3,"y":0.362},{"x":0.345,"y":0.354},{"x":0.39,"y":0.352},{"x":0.45,"y":0.353},{"x":0.52,"y":0.356},{"x":0.6,"y":0.359},{"x":0.7,"y":0.361},{"x":0.77,"y":0.362},{"x":0.85,"y":0.359},{"x":0.92,"y":0.357},{"x":1.0,"y":0.357}],
"arrows": [{"id":1,"x":0.64,"y":0.45},{"id":1,"x":0.875,"y":0.33},{"id":2,"x":1.59,"y":0.07},{"id":2,"x":2.36,"y":0.134}]
},
"hconcat": [
{
"title": {"text": "Growth Rate (α = 0.5)", "offset": -4},
"width": 440, "height": 382,
"layer": [
{"data": {"name": "L"}, "mark": {"type": "rect"},
 "encoding": {
  "x": {"field": "x", "type": "quantitative", "bin": {"binned": true, "step": 0.25}, "scale": {"domain": [0, 6], "nice": false, "zero": false}, "axis": {"values": [0,1,2,3,4,5,6], "title": "Injection Velocity V₀ / Vₐ", "titlePadding": 15}},
  "y": {"field": "y", "type": "quantitative", "bin": {"binned": true, "step": 0.04}, "scale": {"domain": [0, 1], "nice": false, "zero": false}, "axis": {"values": [0,0.2,0.4,0.6,0.8,1], "title": "η = (V‖ʳᵉˢ / V₀)²", "titlePadding": 10}},
  "color": {"field": "g", "type": "quantitative", "scale": {"domain": [-0.001,0.2,0.4,0.6,0.8,1.001], "range": ["#f7f7f7","#fddbc7","#f4a582","#d6604d","#b2182b","#67001f"], "interpolate": "rgb", "clamp": true}, "legend": {"type": "gradient", "title": null, "values": [0,0.2,0.4,0.6,0.8,1], "gradientLength": 382, "gradientThickness": 28, "offset": 20, "labelExpr": "'' + datum.value"}}
 }},
{"data": {"name": "curve"}, "mark": {"type": "area", "color": "#f7f7f7", "interpolate": "linear"},
 "encoding": {"x": {"field": "x", "type": "quantitative"}, "y": {"field": "y", "type": "quantitative"}, "y2": {"datum": 0}}},
{"data": {"values": [{}]}, "mark": {"type": "rule", "color": "#6b6b6b", "strokeDash": [9, 6], "strokeWidth": 1.5},
 "encoding": {"y": {"datum": 0.3}}},
{"data": {"name": "curve"}, "transform": [{"filter": "datum.x >= 1"}], "mark": {"type": "line", "color": "#333333", "strokeDash": [7, 5], "strokeWidth": 1.1, "interpolate": "monotone"},
 "encoding": {"x": {"field": "x", "type": "quantitative"}, "y": {"field": "y", "type": "quantitative"}}},
{"data": {"name": "lmax"}, "mark": {"type": "line", "color": "#111111", "strokeWidth": 1.2, "interpolate": "monotone"},
 "encoding": {"x": {"field": "x", "type": "quantitative"}, "y": {"field": "y", "type": "quantitative"}}},
{"data": {"name": "arrows"}, "mark": {"type": "line", "color": "#000000", "strokeWidth": 1},
 "encoding": {"x": {"field": "x", "type": "quantitative"}, "y": {"field": "y", "type": "quantitative"}, "detail": {"field": "id"}}},
{"data": {"values": [{"x": 0.88, "y": 0.317}]}, "mark": {"type": "point", "shape": "M0,0L-0.4,1.1L0,0.85L0.4,1.1Z", "filled": true, "color": "#000000", "opacity": 1, "size": 400, "angle": 161},
 "encoding": {"x": {"field": "x", "type": "quantitative"}, "y": {"field": "y", "type": "quantitative"}}},
{"data": {"values": [{"x": 2.44, "y": 0.139}]}, "mark": {"type": "point", "shape": "M0,0L-0.4,1.1L0,0.85L0.4,1.1Z", "filled": true, "color": "#000000", "opacity": 1, "size": 400, "angle": 65},
 "encoding": {"x": {"field": "x", "type": "quantitative"}, "y": {"field": "y", "type": "quantitative"}}},
{"data": {"values": [{"x": 0.65, "y": 0.482, "t": "η = 1 - Λ₀"}]}, "mark": {"type": "text", "fontSize": 17, "color": "#000000", "align": "center"},
 "encoding": {"x": {"field": "x", "type": "quantitative"}, "y": {"field": "y", "type": "quantitative"}, "text": {"field": "t"}}},
{"data": {"values": [{"x": 0.88, "y": 0.065, "t": "ω/ω"}]}, "mark": {"type": "text", "fontSize": 17, "color": "#000000", "align": "right"},
 "encoding": {"x": {"field": "x", "type": "quantitative"}, "y": {"field": "y", "type": "quantitative"}, "text": {"field": "t"}}},
{"data": {"values": [{"x": 1.04, "y": 0.065, "t": "= 1/2"}, {"x": 2.15, "y": 0.418, "t": "η"}]}, "mark": {"type": "text", "fontSize": 17, "color": "#000000", "align": "left"},
 "encoding": {"x": {"field": "x", "type": "quantitative"}, "y": {"field": "y", "type": "quantitative"}, "text": {"field": "t"}}},
{"data": {"values": [{"x": 0.885, "y": 0.044, "t": "ci"}, {"x": 2.28, "y": 0.4, "t": "max"}]}, "mark": {"type": "text", "fontSize": 14, "color": "#000000", "align": "left"},
 "encoding": {"x": {"field": "x", "type": "quantitative"}, "y": {"field": "y", "type": "quantitative"}, "text": {"field": "t"}}},
{"data": {"values": [{}]}, "mark": {"type": "rule", "color": "#7a7a7a", "strokeWidth": 1.5}, "encoding": {"y": {"datum": 1}}},
{"data": {"values": [{}]}, "mark": {"type": "rule", "color": "#7a7a7a", "strokeWidth": 1.5}, "encoding": {"x": {"datum": 6}}}
]
},
{
"title": {"text": "Growth Rate (V₀ / Vₐ = 5.0)", "offset": -4},
"width": 430, "height": 382,
"layer": [
{"data": {"name": "R"}, "mark": {"type": "rect"},
 "encoding": {
  "x": {"field": "x", "type": "quantitative", "bin": {"binned": true, "step": 0.05}, "scale": {"domain": [0, 1], "nice": false, "zero": false}, "axis": {"values": [0,0.2,0.4,0.6,0.8,1], "title": "α = k‖/k⊥", "titlePadding": 15}},
  "y": {"field": "y", "type": "quantitative", "bin": {"binned": true, "step": 0.04}, "scale": {"domain": [0, 1], "nice": false, "zero": false}, "axis": {"values": [0,0.2,0.4,0.6,0.8,1], "title": "η = (V‖ʳᵉˢ / V₀)²", "titlePadding": 10}},
  "color": {"field": "h", "type": "quantitative", "scale": {"domain": [-1.27,-1.14,-0.76,-0.38,0,0.38,0.76,1.14,1.52,1.91], "range": ["#3784bb","#4393c3","#92c5de","#d1e5f0","#f7f7f7","#fddbc7","#f4a582","#d6604d","#b2182b","#67001f"], "interpolate": "rgb", "clamp": true}, "legend": {"type": "gradient", "title": null, "values": [-1,-0.5,0,0.5,1,1.5], "gradientLength": 382, "gradientThickness": 30, "offset": 29, "labelExpr": "'' + datum.value"}}
 }},
{"data": {"values": [{}]}, "mark": {"type": "rule", "color": "#444444", "strokeDash": [9, 6], "strokeWidth": 1.5},
 "encoding": {"y": {"datum": 0.3}}},
{"data": {"name": "rmax"}, "mark": {"type": "line", "color": "#222222", "strokeWidth": 1.3, "interpolate": "monotone"},
 "encoding": {"x": {"field": "x", "type": "quantitative"}, "y": {"field": "y", "type": "quantitative"}}},
{"data": {"values": [{}]}, "mark": {"type": "rule", "color": "#7a7a7a", "strokeWidth": 1.5}, "encoding": {"y": {"datum": 1}}},
{"data": {"values": [{}]}, "mark": {"type": "rule", "color": "#7a7a7a", "strokeWidth": 1.5}, "encoding": {"x": {"datum": 1}}}
]
}
],
"resolve": {"scale": {"color": "independent"}, "legend": {"color": "independent"}}
}
